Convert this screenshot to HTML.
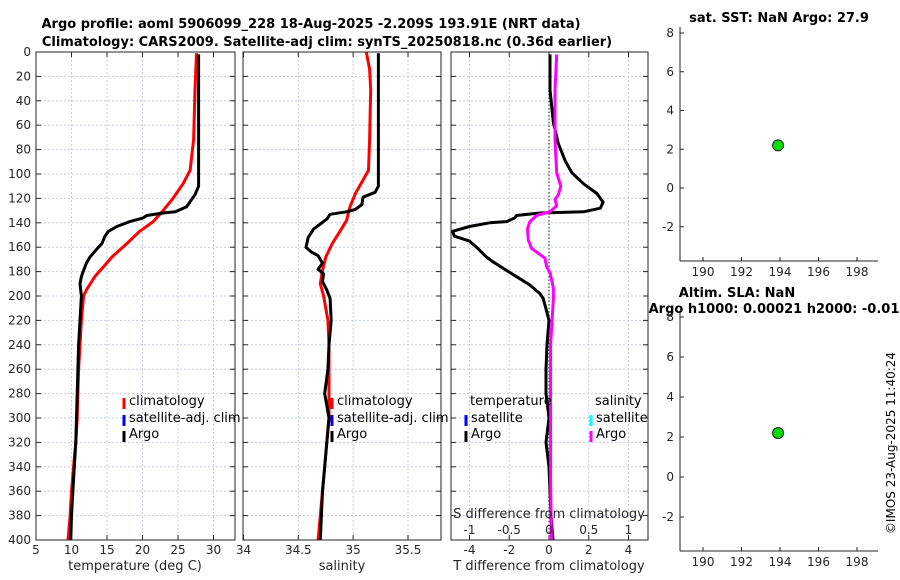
<!DOCTYPE html>
<html><head><meta charset="utf-8">
<style>
html,body{margin:0;padding:0;background:#fff;}
svg{display:block;font-family:"DejaVu Sans","Liberation Sans",sans-serif;}
</style></head>
<body>
<svg id="fig" width="900" height="580" viewBox="0 0 900 580">
<text x="311" y="28" text-anchor="middle" font-size="13" font-weight="bold" fill="#000">Argo profile: aoml 5906099_228 18-Aug-2025 -2.209S 193.91E (NRT data)</text>
<text x="327" y="46" text-anchor="middle" font-size="13" font-weight="bold" fill="#000">Climatology: CARS2009. Satellite-adj clim: synTS_20250818.nc (0.36d earlier)</text>
<text x="779" y="22" text-anchor="middle" font-size="13" font-weight="bold" fill="#000">sat. SST: NaN Argo: 27.9</text>
<text x="737" y="297" text-anchor="middle" font-size="13" font-weight="bold" fill="#000">Altim. SLA: NaN</text>
<text x="774" y="313" text-anchor="middle" font-size="13" font-weight="bold" fill="#000">Argo h1000: 0.00021 h2000: -0.01</text>
<text transform="translate(895,443) rotate(-90)" text-anchor="middle" font-size="12" fill="#000">©IMOS 23-Aug-2025 11:40:24</text>
<g id="plots"></g>
</svg>
<script>
// depth ticks
const depthTicks = [0,20,40,60,80,100,120,140,160,180,200,220,240,260,280,300,320,340,360,380,400];
// temperature panel
const tTicks = [5,10,15,20,25,30];
const argoTDepth = [2,110,117,127,131,132,134,136,139,143,147,151,157,162,168,173,179,184,190,200,220,240,260,280,300,320,340,360,380,400];
const argoT =      [27.9,27.9,27.4,26.2,24.6,22.9,20.6,20.1,18.2,16.4,15.2,14.7,14.3,13.5,12.6,12.1,11.7,11.4,11.2,11.4,11.2,11.0,10.9,10.8,10.7,10.6,10.4,10.2,10.0,9.9];
const climTDepth = [1,31,72,97,108,120,130,139,147,157,168,176,184,195,200,220,240,260,280,300,320,340,360,380,400];
const climT =      [27.6,27.4,27.2,26.7,25.7,24.3,22.9,21.5,19.6,17.8,15.7,14.5,13.3,12.1,11.7,11.4,11.2,11.0,10.9,10.8,10.6,10.3,10.0,9.8,9.5];
// salinity panel
const sTicks = [34,34.5,35,35.5];
const argoSDepth = [1,110,115,119,125,129,131,133,137,141,145,152,160,164,167,173,178,182,188,195,202,220,240,260,280,300,320,340,360,380,400];
const argoS =      [35.23,35.23,35.20,35.09,35.08,35.02,34.94,34.79,34.76,34.70,34.64,34.59,34.57,34.62,34.68,34.72,34.68,34.73,34.72,34.76,34.79,34.80,34.78,34.77,34.74,34.78,34.76,34.74,34.72,34.71,34.70];
const climSDepth = [0,14,31,72,97,105,116,127,138,147,157,168,179,190,200,220,240,260,280,300,320,340,360,380,400];
const climS =      [35.12,35.15,35.16,35.15,35.14,35.09,35.02,34.97,34.94,34.88,34.81,34.75,34.72,34.70,34.73,34.77,34.78,34.78,34.78,34.78,34.76,34.74,34.72,34.70,34.68];
// difference panel
const dTTicks = [-4,-2,0,2,4];
const dSTicks = [-1,-0.5,0,0.5,1];
const dSTickLabels = ["-1","-0.5","0","0.5","1"];
const dTDepth = [2,31,58,75,89,99,108,116,123,128,131,132,134,136,139,140,143,147,151,155,161,168,172,179,185,191,198,202,220,240,260,280,300,320,340,360,380,400];
const dT =      [0.05,0.05,0.22,0.47,0.81,1.15,1.74,2.41,2.72,2.58,1.74,-0.46,-1.64,-1.72,-2.14,-2.99,-4.0,-4.85,-4.76,-4.0,-3.58,-3.15,-2.82,-2.14,-1.55,-0.96,-0.46,-0.29,0.0,-0.1,-0.15,-0.15,0.0,-0.15,0.0,0.05,0.1,0.2];
const dSDepth = [2,31,72,99,110,117,121,126,131,134,139,145,154,161,165,169,176,181,187,194,202,240,300,350,400];
const dS =      [0.097,0.076,0.076,0.097,0.148,0.118,0.076,0.097,0.013,-0.156,-0.24,-0.27,-0.26,-0.22,-0.135,-0.05,-0.03,0.013,0.034,0.055,0.055,0.02,0.02,0.02,0.03];
// position panels
const lonTicks = [190,192,194,196,198];
const latTicks = [8,6,4,2,0,-2];
const floatLon = [193.9];
const floatLat = [2.2];

const NS="http://www.w3.org/2000/svg";
const root=document.getElementById('plots');
function el(tag,attrs,parent){const e=document.createElementNS(NS,tag);for(const k in attrs)e.setAttribute(k,attrs[k]);(parent||root).appendChild(e);return e;}
const yTop=52,yBot=540;
const yD=d=>yTop+(d/400)*(yBot-yTop);
function lin(d0,d1,r0,r1){return v=>r0+(v-d0)/(d1-d0)*(r1-r0);}

function panel(name,x0,x1,xs,ticks,tickLabels,showY){
  const g=el('g',{});
  
  
  depthTicks.forEach(d=>{
    const l=el('line',{x1:x0,x2:x1,y1:yD(d),y2:yD(d),stroke:'#c5cbe6','stroke-width':1,'stroke-dasharray':'2,2'},g);
    
    
    el('line',{x1:x0,x2:x0+5,y1:yD(d),y2:yD(d),stroke:'#262626'},g);
    el('line',{x1:x1-5,x2:x1,y1:yD(d),y2:yD(d),stroke:'#262626'},g);
    if(showY){const t=el('text',{x:x0-5,y:yD(d)+4,'text-anchor':'end','font-size':12,fill:'#262626'},g);t.textContent=d;
      
      }
  });
  ticks.forEach((v,i)=>{
    const x=xs(v);
    if(x>x0+1&&x<x1-1){const l=el('line',{x1:x,x2:x,y1:yTop,y2:yBot,stroke:'#c5cbe6','stroke-width':1,'stroke-dasharray':'2,2'},g);
      
      }
    el('line',{x1:x,x2:x,y1:yBot-5,y2:yBot,stroke:'#262626'},g);
    el('line',{x1:x,x2:x,y1:yTop,y2:yTop+5,stroke:'#262626'},g);
    if(tickLabels){const t=el('text',{x:x,y:yBot+14,'text-anchor':'middle','font-size':12,fill:'#262626'},g);t.textContent=tickLabels[i];
      
      }
  });
  return g;
}
function frame(g,x0,x1){const r=el('rect',{x:x0,y:yTop,width:x1-x0,height:yBot-yTop,fill:'none',stroke:'#262626','stroke-width':1},g);
  
  }
function line(g,xs,vals,depths,color,name,w){
  const pts=vals.map((v,i)=>xs(v).toFixed(1)+','+yD(depths[i]).toFixed(1)).join(' ');
  const p=el('polyline',{points:pts,fill:'none',stroke:color,'stroke-width':w||3,'stroke-linejoin':'round'},g);
  
  
}
function text(g,x,y,s,name,opts){const t=el('text',Object.assign({x:x,y:y,'font-size':12,fill:'#000'},opts||{}),g);t.textContent=s;
  
  return t;}
function marker(g,x,y,color,name){const r=el('rect',{x:x-1.5,y:y-6,width:3,height:11,fill:color},g);
  
  }

// Panel 1
const xT=lin(5,30,36,213.5);
const g1=panel('temperature-panel',36,235,xT,tTicks,tTicks.map(String),true);
line(g1,xT,climT,climTDepth,'#ff0000','climatology-temperature-line');
line(g1,xT,argoT,argoTDepth,'#000000','argo-temperature-line');
frame(g1,36,235);
text(g1,135,570,'temperature (deg C)','x-axis-title-temperature',{'text-anchor':'middle','font-size':13,fill:'#262626'});
marker(g1,124,404,'#ff0000','legend-marker-climatology');text(g1,129,405,'climatology','legend-entry-climatology',{'font-size':13});
marker(g1,124,421,'#0000ff','legend-marker-satellite');text(g1,129,422,'satellite-adj. clim','legend-entry-satellite',{'font-size':13});
marker(g1,124,437,'#000000','legend-marker-argo');text(g1,129,438,'Argo','legend-entry-argo',{'font-size':13});

// Panel 2
const xS=lin(34,35.5,243.5,408);
const g2=panel('salinity-panel',243,441,xS,sTicks,sTicks.map(String),false);
line(g2,xS,climS,climSDepth,'#ff0000','climatology-salinity-line');
line(g2,xS,argoS,argoSDepth,'#000000','argo-salinity-line');
frame(g2,243,441);
text(g2,342,570,'salinity','x-axis-title-salinity',{'text-anchor':'middle','font-size':13,fill:'#262626'});
marker(g2,332,404,'#ff0000','legend-marker-climatology-s');text(g2,337,405,'climatology','legend-entry-climatology-s',{'font-size':13});
marker(g2,332,421,'#0000ff','legend-marker-satellite-s');text(g2,337,422,'satellite-adj. clim','legend-entry-satellite-s',{'font-size':13});
marker(g2,332,437,'#000000','legend-marker-argo-s');text(g2,337,438,'Argo','legend-entry-argo-s',{'font-size':13});

// Panel 3
const xdT=lin(-4,4,469.5,628.5);
const xdS=lin(-1,1,469.5,628.5);
const g3=panel('difference-panel',451,648,xdT,dTTicks,dTTicks.map(String),false);
const zl=el('line',{x1:xdT(0),x2:xdT(0),y1:yTop,y2:yBot,stroke:'#2f4f2f','stroke-width':1.2,'stroke-dasharray':'1.5,2'},g3);


line(g3,xdT,dT,dTDepth,'#000000','argo-temperature-difference-line');
line(g3,xdS,dS,dSDepth,'#ff00ff','argo-salinity-difference-line');
frame(g3,451,648);
text(g3,549,570,'T difference from climatology','x-axis-title-tdiff',{'text-anchor':'middle','font-size':13,fill:'#262626'});
text(g3,549,518,'S difference from climatology','s-axis-title',{'text-anchor':'middle','font-size':13,fill:'#262626'});
dSTicks.forEach((v,i)=>{text(g3,xdS(v),534,dSTickLabels[i],'s-tick-label',{'text-anchor':'middle','font-size':12,fill:'#262626'});});
text(g3,470,405,'temperature','legend-title-temperature',{'font-size':13});
text(g3,595,405,'salinity','legend-title-salinity',{'font-size':13});
marker(g3,466,421,'#0000ff','legend-marker-t-satellite');text(g3,471,422,'satellite','legend-entry-t-satellite',{'font-size':13});
marker(g3,466,437,'#000000','legend-marker-t-argo');text(g3,471,438,'Argo','legend-entry-t-argo',{'font-size':13});
marker(g3,591,421,'#00ffff','legend-marker-s-satellite');text(g3,596,422,'satellite','legend-entry-s-satellite',{'font-size':13});
marker(g3,591,437,'#ff00ff','legend-marker-s-argo');text(g3,596,438,'Argo','legend-entry-s-argo',{'font-size':13});

// Position panels
function posPanel(name,top,bottom,ys){
  const g=el('g',{});
  
  
  const xL=lin(190,198,703,857);
  el('line',{x1:680,x2:680,y1:top,y2:bottom,stroke:'#262626'},g);
  el('line',{x1:680,x2:878,y1:bottom,y2:bottom,stroke:'#262626'},g);
  latTicks.forEach(v=>{el('line',{x1:680,x2:684,y1:ys(v),y2:ys(v),stroke:'#262626'},g);
    text(g,674,ys(v)+4,String(v),'lat-tick-label',{'text-anchor':'end',fill:'#262626'});});
  lonTicks.forEach(v=>{el('line',{x1:xL(v),x2:xL(v),y1:bottom-4,y2:bottom,stroke:'#262626'},g);
    text(g,xL(v),bottom+15,String(v),'lon-tick-label',{'text-anchor':'middle',fill:'#262626'});});
  floatLon.forEach((lo,i)=>{const c=el('circle',{cx:xL(lo),cy:ys(floatLat[i]),r:5.5,fill:'#00dd00',stroke:'#222','stroke-width':1},g);
    
    });
}
posPanel('sst-position-panel',27,261,lin(0,8,188,33));
posPanel('sla-position-panel',312,551,lin(0,8,477,317));
</script>
</body></html>
